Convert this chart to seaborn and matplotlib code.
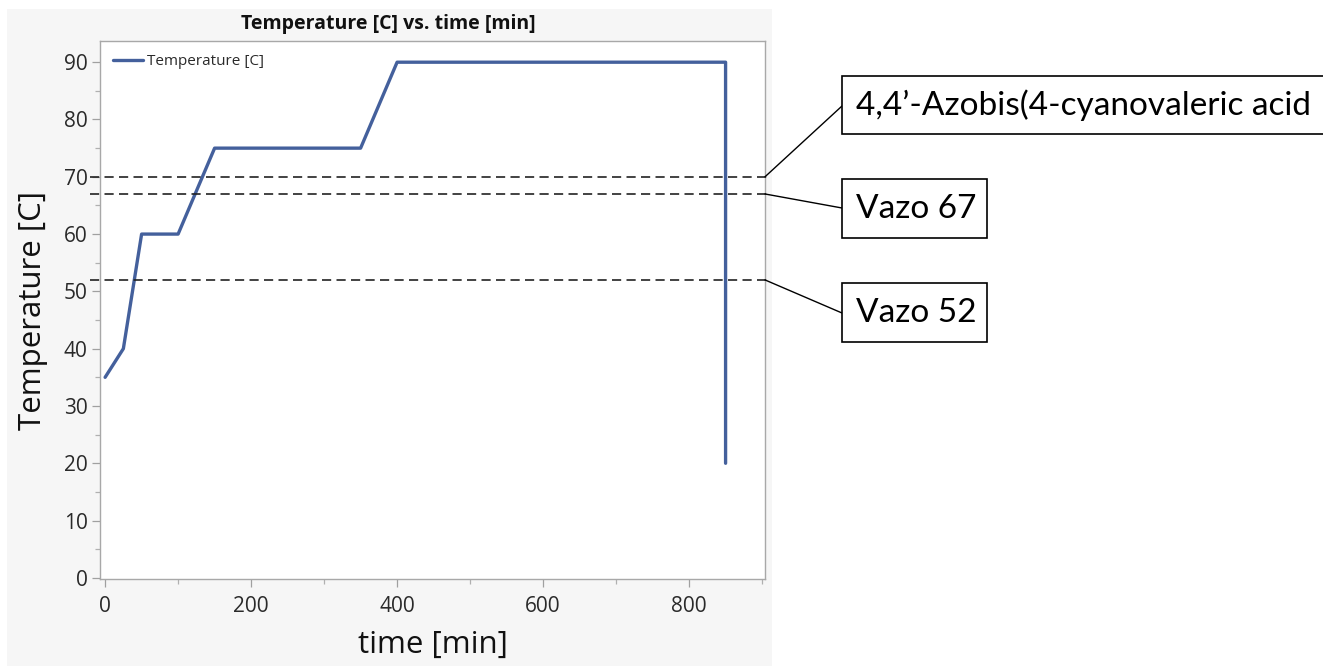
import matplotlib
matplotlib.use("Agg")
import matplotlib.pyplot as plt
from matplotlib.patches import Rectangle
import seaborn as sns
import pandas as pd

# --- Data ---
time_min = [0, 25, 50, 100, 150, 350, 400, 850, 850]
temp_c = [35, 40, 60, 60, 75, 75, 90, 90, 20]

# initiator 10-h half-life temperatures
initiator_names = ["4,4\u2019-Azobis(4-cyanovaleric acid", "Vazo 67", "Vazo 52"]
initiator_temps = [70, 67, 52]

y_ticks = [0, 10, 20, 30, 40, 50, 60, 70, 80, 90]
x_ticks = [0, 200, 400, 600, 800]

df = pd.DataFrame({"time [min]": time_min, "Temperature [C]": temp_c})

# --- Style ---
sns.set_style("ticks")
plt.rcParams["font.family"] = ["Open Sans", "DejaVu Sans"]

W, H = 1323, 666
fig = plt.figure(figsize=(W / 100, H / 100), dpi=100)
fig.patch.set_facecolor("white")

# gray JMP-like report panel behind the graph
fig.patches.append(Rectangle((7, 0), 765, H - 9, transform=None,
                             facecolor="#f6f6f6", edgecolor="none", zorder=-10))

ax = fig.add_axes([100 / W, 87 / H, 665 / W, 538 / H])
ax.set_facecolor("white")

line_color = "#44609c"
sns.lineplot(data=df, x="time [min]", y="Temperature [C]", sort=False,
             estimator=None, color=line_color, linewidth=2.4,
             label="Temperature [C]", ax=ax)

ax.set_xlim(-7, 904)
ax.set_ylim(-0.2, 93.7)
ax.set_xticks(x_ticks)
ax.set_yticks(y_ticks)
ax.set_xticks(range(100, 901, 200), minor=True)
ax.set_yticks(range(5, 91, 10), minor=True)

for s in ax.spines.values():
    s.set_color("#a8a8a8")
    s.set_linewidth(1.0)
ax.tick_params(axis="both", which="major", length=6, width=0.9, color="#a0a0a0",
               labelsize=15, labelcolor="#2a2a2a")
ax.tick_params(axis="both", which="minor", length=3.5, width=0.9, color="#b0b0b0")
ax.tick_params(axis="x", which="major", pad=6)
ax.tick_params(axis="y", which="major", pad=3)

ax.set_xlabel("time [min]", fontsize=22.5, color="#111111")
ax.set_ylabel("Temperature [C]", fontsize=22.5, color="#111111")
ax.xaxis.set_label_coords(0.5, -0.123)
ax.xaxis.label.set_va("center")
ax.yaxis.set_label_coords(-0.101, 0.5)
ax.yaxis.label.set_va("center")

leg = ax.legend(loc="upper left", bbox_to_anchor=(0.0, 1.0), frameon=False,
                fontsize=11, handlelength=1.95, handletextpad=0.25,
                borderaxespad=0.45, borderpad=0.4)
for t in leg.get_texts():
    t.set_color("#2a2a2a")

fig.text(388 / W, 1 - 24 / H, "Temperature [C] vs. time [min]", ha="center",
         va="center", fontsize=14, fontweight="bold", color="#111111")

# dashed reference lines for initiator temperatures
for temp in initiator_temps:
    ax.axhline(temp, xmin=-0.015, xmax=1.003, color="#222222", lw=1.2,
               dashes=(5.5, 3.2), clip_on=False, zorder=3)

# callout boxes on the right (figure pixel layout, top-down from image)
box_tops = [76, 179, 283]
box_h = [58, 59, 59]
box_w = [600, 145, 145]
conn_y = [106, 208, 313]
for name, temp, top, h, w, cy in zip(initiator_names, initiator_temps,
                                     box_tops, box_h, box_w, conn_y):
    fig.patches.append(Rectangle((842, H - top - h), w, h, transform=None,
                                 facecolor="white", edgecolor="black",
                                 linewidth=1.2, zorder=5))
    fig.text(856 / W, 1 - (top + h / 2) / H, name, ha="left", va="center",
             fontsize=24, family=["Lato", "DejaVu Sans"], color="black",
             zorder=6)
    ax.annotate("", xy=(1.0, temp), xycoords=("axes fraction", "data"),
                xytext=(842, H - cy), textcoords="figure pixels",
                arrowprops=dict(arrowstyle="-", color="black", lw=1.0,
                                shrinkA=0, shrinkB=0),
                annotation_clip=False)

fig.savefig("out.png", dpi=100, facecolor=fig.get_facecolor())
